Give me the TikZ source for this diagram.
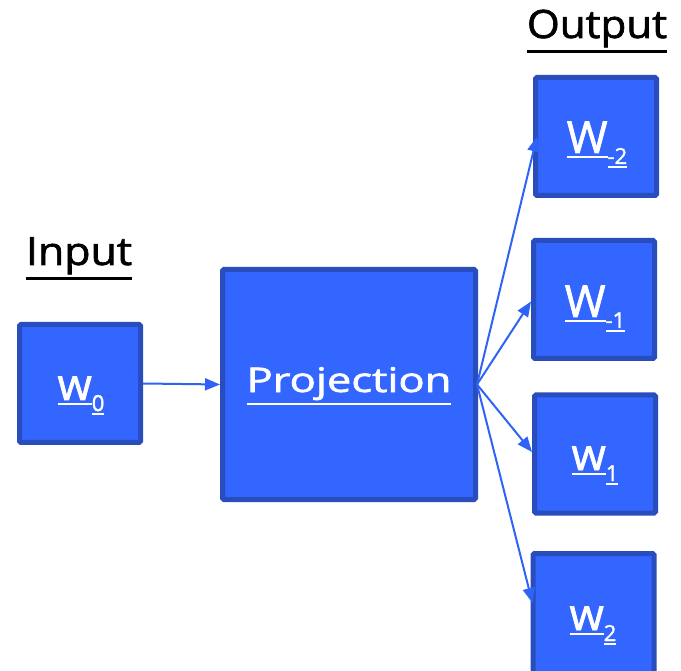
\documentclass[tikz,border=0pt]{standalone}
\usepackage{fontspec}
\setmainfont{Open Sans}
\newfontfamily\labelfont{Open Sans}[FakeBold=1.6]
\usetikzlibrary{arrows.meta}
\definecolor{boxfill}{HTML}{3366FF}
\definecolor{boxedge}{HTML}{2A4DBE}
\definecolor{linkblue}{HTML}{2F63F6}
% underline with a rule of chosen thickness, set below the text depth
\newcommand{\uln}[3]{\setbox0\hbox{#3}%
  \rlap{\raisebox{-\dimexpr\dp0+#1+#2\relax}{\rule{\wd0}{#2}}}\box0}
% word label with an underlined subscript
\newcommand{\wlabel}[2]{\uln{3pt}{2.2pt}{#1}\raisebox{-11pt}{\fontsize{22}{26}\selectfont\uln{2pt}{1.8pt}{#2}}}
\begin{document}
\begin{tikzpicture}[x=1pt,y=-1pt,
  wordbox/.style={draw=boxedge, fill=boxfill, line width=5pt, rounded corners=1.5pt,
    minimum width=121pt, minimum height=118pt, inner sep=0pt},
  projbox/.style={wordbox, minimum width=253pt, minimum height=230pt},
  wordtext/.style={anchor=base, inner sep=0pt, text=white, font=\labelfont\fontsize{44}{50}\selectfont},
  projtext/.style={anchor=base, inner sep=0pt, text=white, font=\labelfont\fontsize{34}{40}\selectfont},
  heading/.style={anchor=base, inner sep=0pt, text=black, font=\labelfont\fontsize{39}{44}\selectfont},
  link/.style={draw=linkblue, line width=2pt,
    -{Triangle[length=15pt,width=12pt]}}]
\useasboundingbox (0,0) rectangle (681,671);

% column headings
\node[heading] (inhead) at (79,265) {\scalebox{1.1}[1]{\uln{3pt}{2.2pt}{Input}}};
\node[heading] (outhead) at (597,38) {\scalebox{1.08}[1]{\uln{3pt}{2.2pt}{Output}}};

% input word, projection and context words
\node[wordbox] (w0) at (80,383.5) {};
\node[projbox] (proj) at (349,384.5) {};
\node[wordbox] (wm2) at (596,136.5) {};
\node[wordbox] (wm1) at (594,299.5) {};
\node[wordbox] (wp1) at (595,454) {};
\node[wordbox, minimum height=121pt] (wp2) at (593.5,614) {};

% labels inside the boxes
\node[wordtext] (w0t) at (81,400) {\wlabel{w}{0}};
\node[projtext] (projt) at (349,392) {\scalebox{1.28}[1]{\uln{3pt}{2.2pt}{Projection}}};
\node[wordtext] (wm2t) at (597,153) {\wlabel{W}{-2}};
\node[wordtext] (wm1t) at (595,317) {\wlabel{W}{-1}};
\node[wordtext] (wp1t) at (595,470) {\wlabel{w}{1}};
\node[wordtext] (wp2t) at (593,630) {\wlabel{w}{2}};

% connectors
\draw[link] (w0.east) -- (proj.west);
\coordinate (hub) at ([xshift=-1pt]proj.east);
\draw[link] (hub) -- ([xshift=4pt]wm2.west);
\draw[link] (hub) -- ([yshift=-2pt]wm1.west);
\draw[link] (hub) -- ([yshift=2pt]wp1.west);
\draw[link] (hub) -- ([xshift=2pt,yshift=11pt]wp2.west);
\end{tikzpicture}
\end{document}
